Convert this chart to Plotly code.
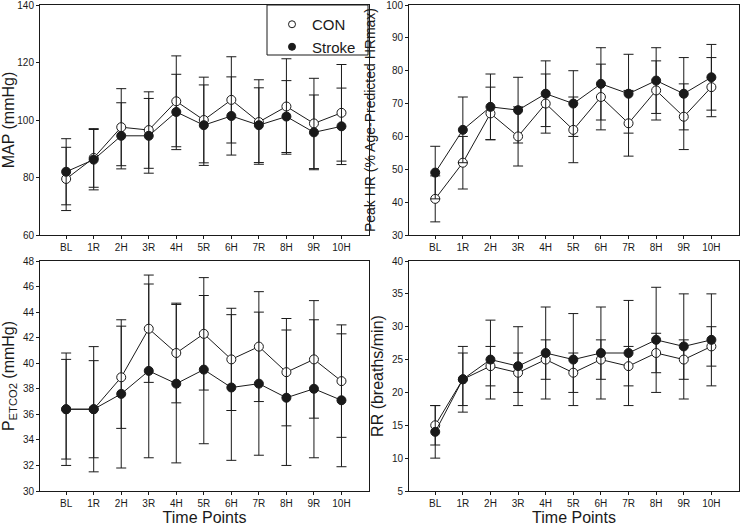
import plotly.graph_objects as go

categories = ["BL", "1R", "2H", "3R", "4H", "5R", "6H", "7R", "8H", "9R", "10H"]

# MAP (mmHg)
map_con = [79.5, 86.8, 97.5, 96.5, 106.5, 100.0, 107.0, 99.3, 104.7, 98.8, 102.5]
map_con_err = [11.0, 10.2, 13.4, 13.3, 15.8, 14.9, 15.0, 14.7, 16.6, 15.7, 16.8]
map_stroke = [82.0, 86.2, 94.5, 94.5, 102.8, 98.2, 101.4, 98.2, 101.2, 95.7, 97.8]
map_stroke_err = [11.5, 10.5, 11.5, 13.0, 13.1, 14.0, 13.6, 13.0, 12.5, 13.0, 13.3]

# Peak HR (% age-predicted HRmax)
hr_con = [41, 52, 67, 60, 70, 62, 72, 64, 74, 66, 75]
hr_con_err = [7, 8, 8, 9, 9, 10, 10, 10, 9, 10, 9]
hr_stroke = [49, 62, 69, 68, 73, 70, 76, 73, 77, 73, 78]
hr_stroke_err = [8, 10, 10, 10, 10, 10, 11, 12, 10, 11, 10]

# PETCO2 (mmHg)
pet_con = [36.4, 36.4, 38.9, 42.7, 40.8, 42.3, 40.3, 41.3, 39.3, 40.3, 38.6]
pet_con_err = [3.9, 3.8, 4.0, 4.2, 3.9, 4.4, 4.0, 4.3, 4.2, 4.6, 4.4]
pet_stroke = [36.4, 36.4, 37.6, 39.4, 38.4, 39.5, 38.1, 38.4, 37.3, 38.0, 37.1]
pet_stroke_err = [4.4, 4.9, 5.8, 6.8, 6.2, 5.8, 5.7, 5.6, 5.3, 5.4, 5.2]

# RR (breaths/min)
rr_con = [15, 22, 24, 23, 25, 23, 25, 24, 26, 25, 27]
rr_con_err = [3, 4, 3, 3, 3, 3, 3, 3, 3, 3, 3]
rr_stroke = [14, 22, 25, 24, 26, 25, 26, 26, 28, 27, 28]
rr_stroke_err = [4, 5, 6, 6, 7, 7, 7, 8, 8, 8, 7]

W, H = 740, 530
FONT = "Liberation Sans, Arial, sans-serif"
INK = "#1a1a1a"

panels = [
    ("x", "y", map_con, map_con_err, map_stroke, map_stroke_err, [60, 140], 20,
     "MAP (mmHg)", 16, 4, (40, 369), (5, 235), ""),
    ("x2", "y2", hr_con, hr_con_err, hr_stroke, hr_stroke_err, [30, 100], 10,
     "Peak HR (% Age-Predicted HRmax)", 14, 7, (409, 739), (5, 235), ""),
    ("x3", "y3", pet_con, pet_con_err, pet_stroke, pet_stroke_err, [30, 48], 2,
     "P<sub>ETCO2</sub> (mmHg)", 16, 4, (40, 369), (261, 491), "Time Points"),
    ("x4", "y4", rr_con, rr_con_err, rr_stroke, rr_stroke_err, [5, 40], 5,
     "RR (breaths/min)", 16, 4, (409, 739), (261, 491), "Time Points"),
]

fig = go.Figure()
layout = {}
for i, (xa, ya, con, con_e, stk, stk_e, yr, dt, ytitle, ysz, ystand, xd, yd, xtitle) in enumerate(panels):
    fig.add_trace(go.Scatter(
        x=categories, y=con, xaxis=xa, yaxis=ya, mode="lines+markers", showlegend=False,
        line=dict(color=INK, width=1),
        marker=dict(size=9, color="white", line=dict(color=INK, width=1)),
        error_y=dict(type="data", array=con_e, symmetric=True, color=INK, thickness=1, width=5),
    ))
    fig.add_trace(go.Scatter(
        x=categories, y=stk, xaxis=xa, yaxis=ya, mode="lines+markers", showlegend=False,
        line=dict(color=INK, width=1),
        marker=dict(size=9, color=INK, line=dict(color=INK, width=1)),
        error_y=dict(type="data", array=stk_e, symmetric=True, color=INK, thickness=1, width=5),
    ))
    suffix = "" if i == 0 else str(i + 1)
    layout["xaxis" + suffix] = dict(
        domain=[xd[0] / W, xd[1] / W], anchor=ya, range=[-0.95, 11.0], automargin=False,
        showline=True, mirror=True, linecolor=INK, linewidth=1,
        ticks="outside", ticklen=3, tickcolor=INK, showgrid=False, zeroline=False,
        tickfont=dict(family=FONT, size=10, color=INK), ticklabeloverflow="allow",
        title=dict(text=xtitle, font=dict(family=FONT, size=16, color=INK), standoff=2),
    )
    layout["yaxis" + suffix] = dict(
        domain=[1 - yd[1] / H, 1 - yd[0] / H], anchor=xa, range=yr, dtick=dt, tick0=yr[0],
        automargin=False,
        showline=True, mirror=True, linecolor=INK, linewidth=1,
        ticks="outside", ticklen=3, tickcolor=INK, showgrid=False, zeroline=False,
        tickfont=dict(family=FONT, size=10, color=INK), ticklabeloverflow="allow",
        title=dict(text=ytitle, font=dict(family=FONT, size=ysz, color=INK), standoff=ystand),
    )

# legend-only entries
fig.add_trace(go.Scatter(x=[None], y=[None], mode="markers", name="CON",
                         marker=dict(size=7, color="white", line=dict(color=INK, width=1))))
fig.add_trace(go.Scatter(x=[None], y=[None], mode="markers", name="Stroke",
                         marker=dict(size=7, color=INK, line=dict(color=INK, width=1))))

fig.update_layout(
    **layout,
    width=W, height=H, margin=dict(l=0, r=0, t=0, b=0, autoexpand=False),
    paper_bgcolor="white", plot_bgcolor="white",
    font=dict(family=FONT, color=INK),
    shapes=[dict(type="rect", xref="paper", yref="paper",
                 x0=267 / W, x1=368 / W, y0=1 - 55 / H, y1=1 - 5 / H,
                 line=dict(color=INK, width=1), fillcolor="white", layer="below")],
    legend=dict(x=272 / W, y=1 - 8 / H, xanchor="left", yanchor="top",
                bgcolor="rgba(0,0,0,0)", borderwidth=0,
                font=dict(family=FONT, size=15, color=INK),
                itemsizing="trace", tracegroupgap=0),
)

fig.write_html("out.html", config={"displayModeBar": False},
               post_script="document.body.style.margin='0';document.body.style.overflow='hidden';")
